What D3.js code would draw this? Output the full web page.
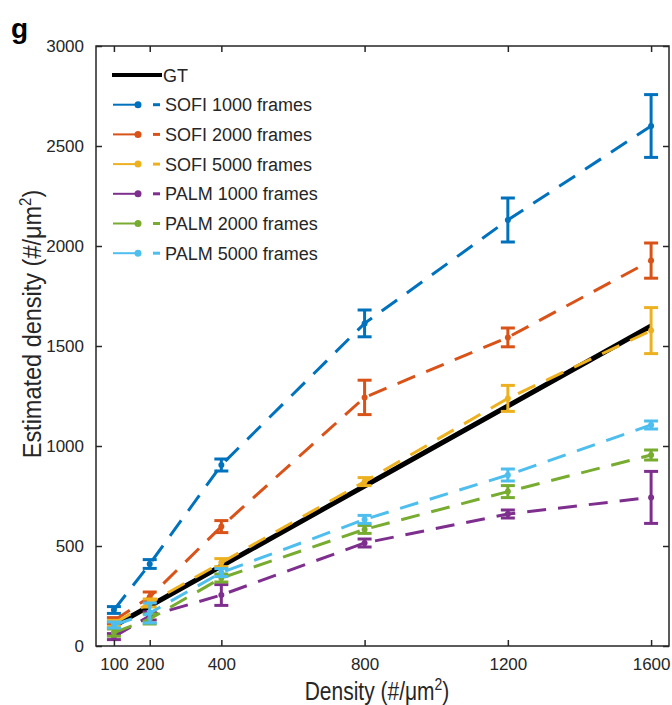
<!DOCTYPE html>
<html><head><meta charset="utf-8">
<script src="https://cdn.jsdelivr.net/npm/d3@7"></script>
<style>body{margin:0;background:#fff}svg{font-family:"Liberation Sans",Arial,sans-serif}</style>
</head><body>
<svg id="c" width="672" height="705"></svg>
<script>
const densities = [100, 200, 400, 800, 1200, 1600];
const gtValues = [100, 200, 400, 800, 1200, 1600];
const seriesNames = ["SOFI 1000 frames","SOFI 2000 frames","SOFI 5000 frames","PALM 1000 frames","PALM 2000 frames","PALM 5000 frames"];
const seriesColors = ["#0072BD","#D95319","#EDB120","#7E2F8E","#77AC30","#4DBEEE"];
const sofi1000 = [180, 410, 905, 1613, 2130, 2600];
const sofi1000Err = [17, 22, 30, 67, 110, 157];
const sofi2000 = [127, 245, 597, 1243, 1543, 1927];
const sofi2000Err = [15, 25, 30, 86, 47, 88];
const sofi5000 = [113, 215, 417, 822, 1238, 1577];
const sofi5000Err = [15, 20, 20, 20, 65, 115];
const palm1000 = [47, 150, 255, 515, 660, 743];
const palm1000Err = [15, 20, 52, 20, 20, 130];
const palm2000 = [67, 135, 340, 583, 772, 955];
const palm2000Err = [18, 25, 20, 20, 30, 25];
const palm5000 = [105, 165, 367, 633, 855, 1105];
const palm5000Err = [15, 50, 20, 20, 30, 20];
const xTicks = [100, 200, 400, 800, 1200, 1600];
const yTicks = [0, 500, 1000, 1500, 2000, 2500, 3000];

const seriesVals = [sofi1000, sofi2000, sofi5000, palm1000, palm2000, palm5000];
const seriesErrs = [sofi1000Err, sofi2000Err, sofi5000Err, palm1000Err, palm2000Err, palm5000Err];

const L = 96, R = 669, T = 46, B = 646;
const svg = d3.select("#c");
const x = d3.scaleLinear().domain([50, 1650]).range([L, R]);
const y = d3.scaleLinear().domain([0, 3000]).range([B, T]);
const axCol = "#262626";

// GT line
const line = d3.line().x((d,i)=>x(densities[i])).y(d=>y(d));
svg.append("path").datum(gtValues).attr("d", line).attr("fill","none")
  .attr("stroke","#000").attr("stroke-width",5);

seriesVals.forEach((vals, s) => {
  const col = seriesColors[s];
  const g = svg.append("g");
  g.append("path").datum(vals).attr("d", line).attr("fill","none")
    .attr("stroke", col).attr("stroke-width", 3).attr("stroke-dasharray","19,12");
  const errs = seriesErrs[s];
  vals.forEach((v, i) => {
    const cx = x(densities[i]);
    const y0 = y(v - errs[i]), y1 = y(v + errs[i]);
    g.append("line").attr("x1",cx).attr("x2",cx).attr("y1",y0).attr("y2",y1).attr("stroke",col).attr("stroke-width",3);
    [y0,y1].forEach(yy => g.append("line").attr("x1",cx-7).attr("x2",cx+7).attr("y1",yy).attr("y2",yy).attr("stroke",col).attr("stroke-width",3));
    g.append("circle").attr("cx",cx).attr("cy",y(v)).attr("r",3).attr("fill",col);
  });
});

// axes
svg.append("rect").attr("x",L).attr("y",T).attr("width",R-L).attr("height",B-T)
  .attr("fill","none").attr("stroke",axCol).attr("stroke-width",1.5);
const fmt = d3.format("d");
const xb = d3.axisBottom(x).tickValues(xTicks).tickSize(-6).tickPadding(12).tickSizeOuter(0).tickFormat(fmt);
const xt = d3.axisTop(x).tickValues(xTicks).tickSize(-6).tickFormat("").tickSizeOuter(0);
const yl = d3.axisLeft(y).tickValues(yTicks).tickSize(-6).tickPadding(12).tickSizeOuter(0).tickFormat(fmt);
const yr = d3.axisRight(y).tickValues(yTicks).tickSize(-6).tickFormat("").tickSizeOuter(0);
[[xb,`translate(0,${B})`],[xt,`translate(0,${T})`],[yl,`translate(${L},0)`],[yr,`translate(${R},0)`]].forEach(([a,t])=>{
  const g = svg.append("g").attr("transform",t).call(a);
  g.select(".domain").remove();
  g.selectAll("line").attr("stroke",axCol).attr("stroke-width",1.5);
  g.selectAll("text").attr("fill",axCol).style("font-size","17px").style("font-family","Liberation Sans, Arial, sans-serif");
});

// axis labels
svg.append("g").attr("transform","translate(377,700) scale(1,1.2)")
  .append("text").attr("x",0).attr("y",0).attr("text-anchor","middle")
  .attr("fill",axCol).style("font-size","21px")
  .html('Density (#/μm<tspan dy="-8" font-size="14px">2</tspan><tspan dy="8">)</tspan>');
svg.append("g").attr("transform","translate(41,324) rotate(-90) scale(1,1.1)")
  .append("text").attr("x",0).attr("y",0).attr("text-anchor","middle")
  .attr("fill",axCol).style("font-size","23.5px")
  .html('Estimated density (#/μm<tspan dy="-9" font-size="15px">2</tspan><tspan dy="9">)</tspan>');
svg.append("text").attr("x",11).attr("y",38).attr("fill","#000").style("font-size","28px").style("font-weight","bold").text("g");

// legend
const lg = svg.append("g");
const ly0 = 75, lstep = 29.7;
lg.append("line").attr("x1",112).attr("x2",162).attr("y1",ly0).attr("y2",ly0).attr("stroke","#000").attr("stroke-width",4);
lg.append("text").attr("x",163).attr("y",ly0+6.5).attr("fill",axCol).style("font-size","18px").text("GT");
seriesNames.forEach((n, i) => {
  const yy = ly0 + lstep*(i+1);
  const col = seriesColors[i];
  lg.append("line").attr("x1",113).attr("x2",138).attr("y1",yy).attr("y2",yy).attr("stroke",col).attr("stroke-width",2);
  lg.append("circle").attr("cx",138).attr("cy",yy).attr("r",3.5).attr("fill",col);
  lg.append("line").attr("x1",153).attr("x2",160).attr("y1",yy).attr("y2",yy).attr("stroke",col).attr("stroke-width",3);
  lg.append("text").attr("x",165).attr("y",yy+6.5).attr("fill",axCol).style("font-size","18px").text(n);
});
</script>
</body></html>
